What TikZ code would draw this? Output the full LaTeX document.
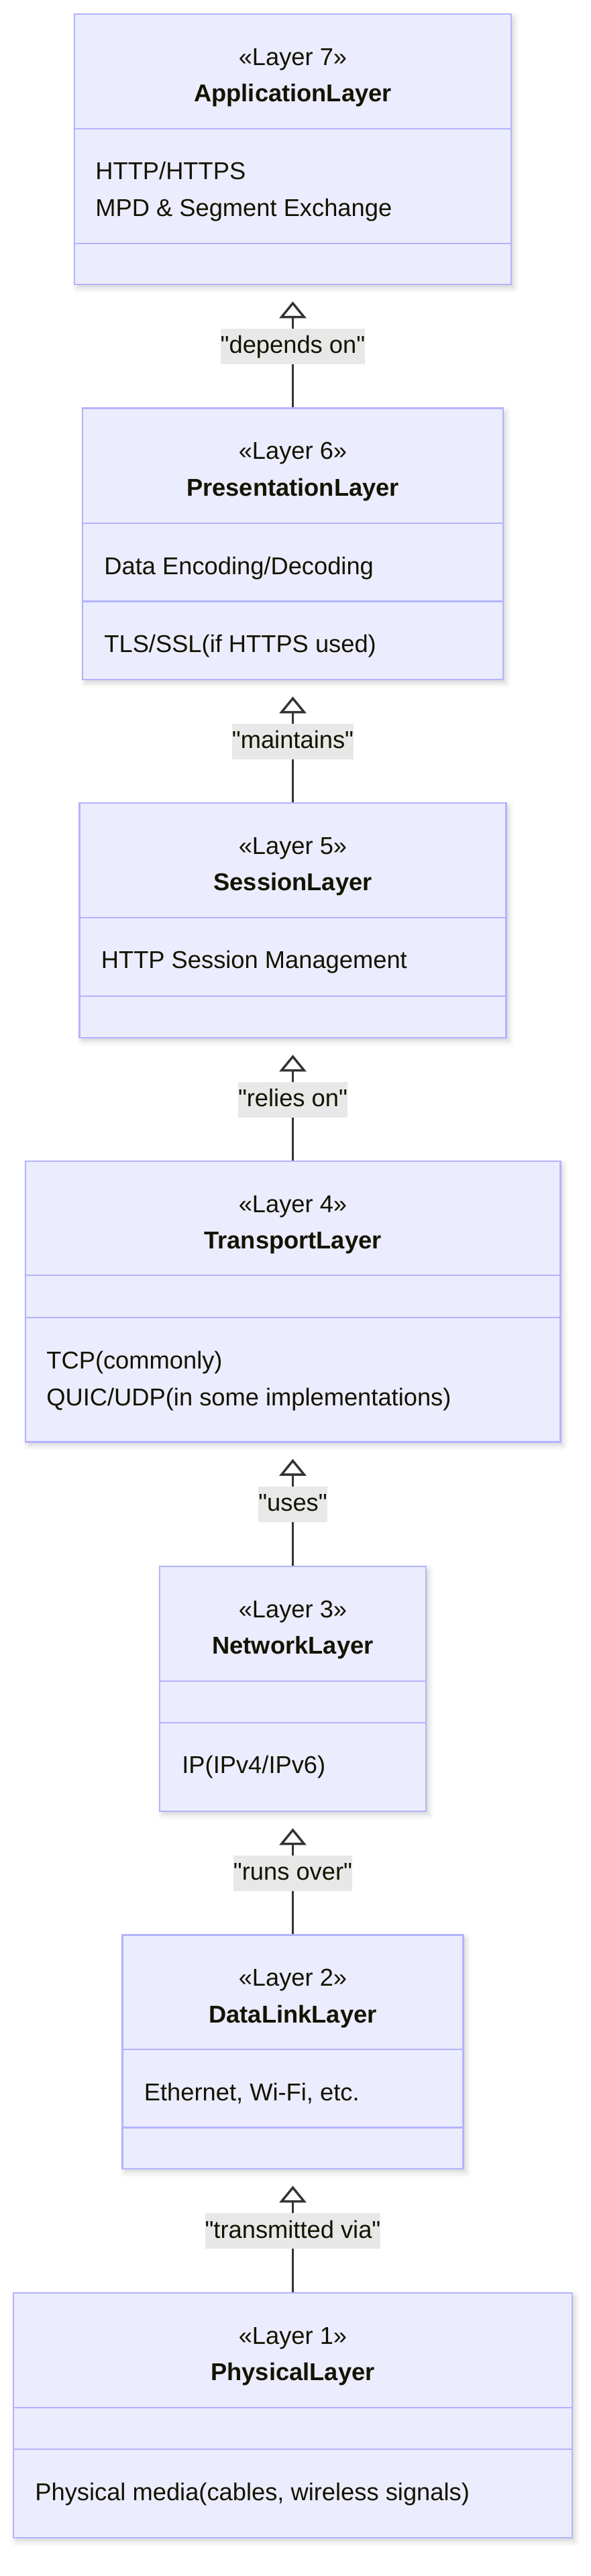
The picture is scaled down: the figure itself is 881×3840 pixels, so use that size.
\documentclass[tikz,border=0pt]{standalone}
\usepackage{fontspec}
\setmainfont{Liberation Sans}[Ligatures=TeXOff]
\usetikzlibrary{arrows.meta,shadows.blur}
\definecolor{boxfill}{HTML}{ECECFF}
\definecolor{boxline}{HTML}{B3B3FF}
\definecolor{ink}{HTML}{131300}
\definecolor{edgeline}{HTML}{333333}
\definecolor{labelfill}{HTML}{E8E8E8}
\newcommand{\layerfont}{\fontsize{18.15pt}{27.5pt}\selectfont}

\begin{document}
\begin{tikzpicture}[x=0.5pt, y=-0.5pt,
    layerbox/.style={draw=boxline, line width=1.3pt, fill=boxfill, rectangle, inner sep=0pt,
        blur shadow={shadow xshift=2pt, shadow yshift=-2.5pt, shadow blur radius=4pt, shadow opacity=18}},
    divider/.style={draw=boxline, line width=1.3pt},
    txt/.style={inner sep=0pt, text=ink, font=\layerfont},
    title/.style={txt, anchor=base},
    entry/.style={txt, anchor=base west},
    dep/.style={draw=edgeline, line width=1.2pt, shorten >=12pt,
        -{Triangle[open, length=12.5pt, width=20pt, line width=1.7pt]}},
    lbl/.style={midway, fill=labelfill, inner xsep=0pt, inner ysep=0pt, minimum height=26.5pt,
        text height=14.5pt, text depth=4pt, text=ink, font=\layerfont}
]
    \useasboundingbox (0,0) rectangle (881,3840);

    % Layer 7
    \node[layerbox, minimum width=325.5pt, minimum height=201.5pt] (app) at (436.5,222.5) {};
    \draw[divider] (app.west |- 0,192) -- (app.east |- 0,192);
    \draw[divider] (app.west |- 0,363) -- (app.east |- 0,363);
    \node[title] (app-st) at (436.5,97) {«Layer 7»};
    \node[title] (app-name) at (436.5,151.5) {\bfseries ApplicationLayer};
    \node[entry] (app-m1) at (142,267) {HTTP/HTTPS};
    \node[entry] (app-m2) at (142,322) {MPD \& Segment Exchange};

    % Layer 6
    \node[layerbox, minimum width=313.5pt, minimum height=202.25pt] (pres) at (436.5,810.75) {};
    \draw[divider] (pres.west |- 0,780) -- (pres.east |- 0,780);
    \draw[divider] (pres.west |- 0,896.5) -- (pres.east |- 0,896.5);
    \node[title] (pres-st) at (436.5,684.5) {«Layer 6»};
    \node[title] (pres-name) at (436.5,739) {\bfseries PresentationLayer};
    \node[entry] (pres-m1) at (155,856) {Data Encoding/Decoding};
    \node[entry] (pres-m2) at (155,972) {TLS/SSL(if HTTPS used)};

    % Layer 5
    \node[layerbox, minimum width=318pt, minimum height=175pt] (sess) at (436.5,1372) {};
    \draw[divider] (sess.west |- 0,1368) -- (sess.east |- 0,1368);
    \draw[divider] (sess.west |- 0,1485) -- (sess.east |- 0,1485);
    \node[title] (sess-st) at (436.5,1273) {«Layer 5»};
    \node[title] (sess-name) at (436.5,1327.5) {\bfseries SessionLayer};
    \node[entry] (sess-m1) at (150.5,1443) {HTTP Session Management};

    % Layer 4
    \node[layerbox, minimum width=398.7pt, minimum height=209.25pt] (trans) at (436.5,1940.25) {};
    \draw[divider] (trans.west |- 0,1901) -- (trans.east |- 0,1901);
    \draw[divider] (trans.west |- 0,1964) -- (trans.east |- 0,1964);
    \node[title] (trans-st) at (436.5,1807) {«Layer 4»};
    \node[title] (trans-name) at (436.5,1861.5) {\bfseries TransportLayer};
    \node[entry] (trans-m1) at (69,2040) {TCP(commonly)};
    \node[entry] (trans-m2) at (69,2095) {QUIC/UDP(in some implementations)};

    % Layer 3
    \node[layerbox, minimum width=198.5pt, minimum height=182.5pt] (net) at (436.5,2517.5) {};
    \draw[divider] (net.west |- 0,2506) -- (net.east |- 0,2506);
    \draw[divider] (net.west |- 0,2568) -- (net.east |- 0,2568);
    \node[title] (net-st) at (436.5,2411) {«Layer 3»};
    \node[title] (net-name) at (436.5,2465.5) {\bfseries NetworkLayer};
    \node[entry] (net-m1) at (271,2643) {IP(IPv4/IPv6)};

    % Layer 2
    \node[layerbox, minimum width=254pt, minimum height=174.25pt] (link) at (436.5,3058.75) {};
    \draw[divider] (link.west |- 0,3055) -- (link.east |- 0,3055);
    \draw[divider] (link.west |- 0,3171.5) -- (link.east |- 0,3171.5);
    \node[title] (link-st) at (436.5,2960.5) {«Layer 2»};
    \node[title] (link-name) at (436.5,3015) {\bfseries DataLinkLayer};
    \node[entry] (link-m1) at (214.5,3131) {Ethernet, Wi-Fi, etc.};

    % Layer 1
    \node[layerbox, minimum width=416.5pt, minimum height=182.5pt] (phys) at (436.5,3600.5) {};
    \draw[divider] (phys.west |- 0,3589) -- (phys.east |- 0,3589);
    \draw[divider] (phys.west |- 0,3651) -- (phys.east |- 0,3651);
    \node[title] (phys-st) at (436.5,3494) {«Layer 1»};
    \node[title] (phys-name) at (436.5,3548.5) {\bfseries PhysicalLayer};
    \node[entry] (phys-m1) at (52,3727) {Physical media(cables, wireless signals)};

    % Arrows
    \draw[dep] (pres.north) -- (app.south) node[lbl] (l76) {"depends on"};
    \draw[dep] (sess.north) -- (pres.south) node[lbl] (l65) {"maintains"};
    \draw[dep] (trans.north) -- (sess.south) node[lbl] (l54) {"relies on"};
    \draw[dep] (net.north) -- (trans.south) node[lbl] (l43) {"uses"};
    \draw[dep] (link.north) -- (net.south) node[lbl] (l32) {"runs over"};
    \draw[dep] (phys.north) -- (link.south) node[lbl] (l21) {"transmitted via"};
\end{tikzpicture}
\end{document}
